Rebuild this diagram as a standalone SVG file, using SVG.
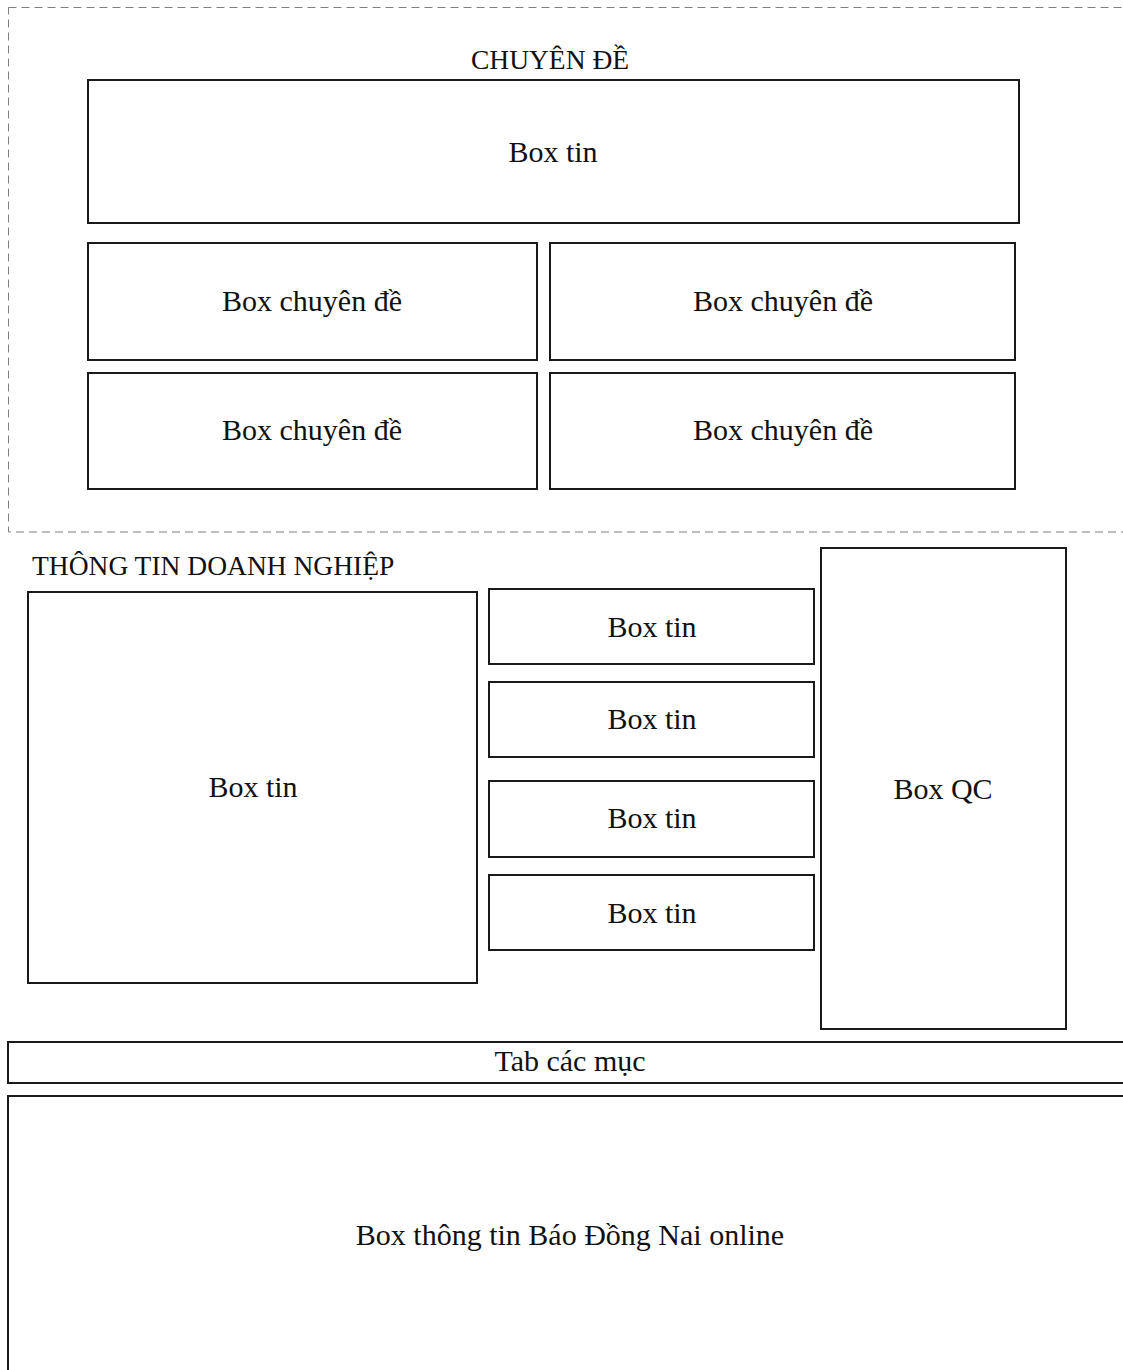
<svg xmlns="http://www.w3.org/2000/svg" width="1123" height="1370" viewBox="0 0 1123 1370">
<style>
.box{fill:#fff;stroke:#1a1a1a;stroke-width:2}
.dash{fill:none;stroke:#808080;stroke-width:1;stroke-dasharray:8 5}
.t{font-family:"Liberation Serif","Times New Roman",serif;font-size:30px;fill:#111;text-anchor:middle}
.h{font-family:"Liberation Serif","Times New Roman",serif;font-size:27.5px;fill:#111}
</style>
<rect width="1123" height="1370" fill="#fff"/>
<g id="section-chuyende">
<rect class="dash" x="8.5" y="7.5" width="1130" height="524.5"/>
<text class="h" x="550" y="69" text-anchor="middle">CHUYÊN ĐỀ</text>
</g>
<g id="cd-boxtin"><rect class="box" x="88" y="80" width="931" height="143"/><text class="t" x="553" y="162">Box tin</text></g>
<g id="cd-1"><rect class="box" x="88" y="243" width="449" height="117"/><text class="t" x="312" y="311">Box chuyên đề</text></g>
<g id="cd-2"><rect class="box" x="550" y="243" width="465" height="117"/><text class="t" x="783" y="311">Box chuyên đề</text></g>
<g id="cd-3"><rect class="box" x="88" y="373" width="449" height="116"/><text class="t" x="312" y="440">Box chuyên đề</text></g>
<g id="cd-4"><rect class="box" x="550" y="373" width="465" height="116"/><text class="t" x="783" y="440">Box chuyên đề</text></g>
<g id="section-doanhnghiep"><text class="h" x="32" y="575">THÔNG TIN DOANH NGHIỆP</text></g>
<g id="dn-main"><rect class="box" x="28" y="592" width="449" height="391"/><text class="t" x="253" y="797">Box tin</text></g>
<g id="dn-1"><rect class="box" x="489" y="589" width="325" height="75"/><text class="t" x="652" y="637">Box tin</text></g>
<g id="dn-2"><rect class="box" x="489" y="682" width="325" height="75"/><text class="t" x="652" y="729">Box tin</text></g>
<g id="dn-3"><rect class="box" x="489" y="781" width="325" height="76"/><text class="t" x="652" y="828">Box tin</text></g>
<g id="dn-4"><rect class="box" x="489" y="875" width="325" height="75"/><text class="t" x="652" y="923">Box tin</text></g>
<g id="qc"><rect class="box" x="821" y="548" width="245" height="481"/><text class="t" x="943" y="799">Box QC</text></g>
<g id="tab"><rect class="box" x="8" y="1042" width="1130" height="41"/><text class="t" x="570" y="1071">Tab các mục</text></g>
<g id="bdn"><rect class="box" x="8" y="1096" width="1130" height="300"/><text class="t" x="570" y="1245">Box thông tin Báo Đồng Nai online</text></g>
<g id="connectors"/>
</svg>
